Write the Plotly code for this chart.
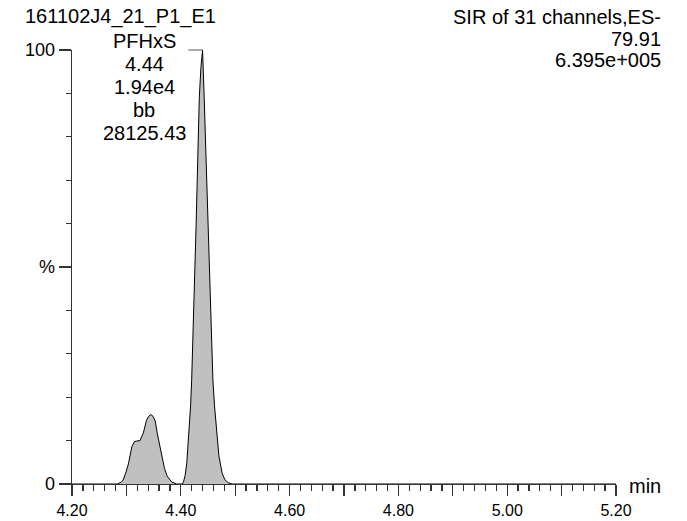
import plotly.graph_objects as go

# ---- data ----
time_min = [4.200, 4.283, 4.290, 4.294, 4.300, 4.304, 4.310, 4.315, 4.319, 4.325,
            4.331, 4.337, 4.341, 4.345, 4.349, 4.353, 4.357, 4.360, 4.365, 4.370,
            4.375, 4.383, 4.392, 4.403, 4.405, 4.408, 4.411, 4.415, 4.418, 4.420,
            4.424, 4.428, 4.431, 4.434, 4.437, 4.440, 4.443, 4.447, 4.451, 4.455,
            4.459, 4.462, 4.466, 4.470, 4.476, 4.481, 4.487, 4.494, 5.200]
intensity_pct = [0, 0, 0.4, 0.9, 3.0, 4.8, 8.6, 9.8, 9.9, 10.0,
                 11.7, 14.7, 15.6, 16.0, 15.6, 14.5, 11.5, 9.7, 6.5, 3.6,
                 1.8, 0.5, 0, 0, 0.5, 2, 4.8, 12, 18, 24,
                 40, 59, 74, 89, 96, 100, 89, 74, 59, 40,
                 24, 18, 12, 6.5, 2.5, 1, 0.3, 0, 0]

x_ticks = [4.2, 4.3, 4.4, 4.5, 4.6, 4.7, 4.8, 4.9, 5.0, 5.1, 5.2]
x_ticktext = ["4.20", "", "4.40", "", "4.60", "", "4.80", "", "5.00", "", "5.20"]
y_ticks = [0, 50, 100]
y_ticktext = ["0", "%", "100"]

sample_name = "161102J4_21_P1_E1"
peak_info = ["PFHxS", "4.44", "1.94e4", "bb", "28125.43"]
header_right = ["SIR of 31 channels,ES-", "79.91", "6.395e+005"]
peak_time = 4.44
peak_height = 100

X_RANGE = [4.2, 5.2]
Y_RANGE = [0, 100]

# ---- layout geometry (window pixels; body margin removed below) ----
W, H = 687, 521
PL, PR, PT, PB = 72, 616, 50, 484          # plot area
PW, PH = PR - PL, PB - PT
ML, MT = PL, PT
MR, MB = W - PR, H - PB


def px(x):
    return (x - PL) / PW


def py(y):
    return (PB - y) / PH


FONT = "Liberation Sans, Arial, Helvetica, sans-serif"
AXIS_COLOR = "#333333"

fig = go.Figure()
fig.add_trace(go.Scatter(
    x=time_min, y=intensity_pct, mode="lines",
    line=dict(color="black", width=1),
    fill="tozeroy", fillcolor="#c0c0c0",
    hoverinfo="skip", showlegend=False,
))

annotations = []
annotations.append(dict(text=sample_name, x=px(120), y=py(17), xref="paper", yref="paper",
                        xanchor="center", yanchor="middle", showarrow=False,
                        font=dict(size=20, color="black", family=FONT)))
for i, t in enumerate(peak_info):
    annotations.append(dict(text=t, x=px(144), y=py(41 + 22.9 * i), xref="paper", yref="paper",
                            xanchor="center", yanchor="middle", showarrow=False,
                            font=dict(size=20, color="black", family=FONT)))
for i, t in enumerate(header_right):
    annotations.append(dict(text=t, x=px(663), y=py(17 + 21.5 * i), xref="paper", yref="paper",
                            xanchor="right", yanchor="middle", showarrow=False,
                            font=dict(size=20, color="black", family=FONT)))
annotations.append(dict(text="min", x=px(627), y=py(486), xref="paper", yref="paper",
                        xanchor="left", yanchor="middle", showarrow=False,
                        font=dict(size=20, color="black", family=FONT)))


def xpaper(v):
    return (v - X_RANGE[0]) / (X_RANGE[1] - X_RANGE[0])


def ypaper(v):
    return (v - Y_RANGE[0]) / (Y_RANGE[1] - Y_RANGE[0])


shapes = [dict(type="line", xref="paper", yref="paper",
               x0=xpaper(peak_time - 0.026), x1=xpaper(peak_time),
               y0=ypaper(peak_height), y1=ypaper(peak_height),
               line=dict(color="#555555", width=1))]

fig.update_layout(
    width=W, height=H,
    margin=dict(l=ML, r=MR, t=MT, b=MB, pad=0, autoexpand=False),
    paper_bgcolor="white", plot_bgcolor="white",
    font=dict(family=FONT, color="black"),
    annotations=annotations, shapes=shapes,
    xaxis=dict(range=X_RANGE, tickmode="array", tickvals=x_ticks, ticktext=x_ticktext,
               ticks="outside", ticklen=11, tickwidth=1.3, tickcolor=AXIS_COLOR,
               minor=dict(tickmode="linear", dtick=0.02, tick0=4.2, ticks="outside",
                          ticklen=6, tickwidth=1.3, tickcolor=AXIS_COLOR, showgrid=False),
               showline=True, linecolor=AXIS_COLOR, linewidth=1.3, automargin=False,
               showgrid=False, zeroline=False,
               tickfont=dict(size=16, family=FONT, color="black")),
    yaxis=dict(range=Y_RANGE, tickmode="array", tickvals=y_ticks, ticktext=y_ticktext,
               ticks="outside", ticklen=12, tickwidth=1.3, tickcolor=AXIS_COLOR,
               minor=dict(tickmode="linear", dtick=10, tick0=0, ticks="outside",
                          ticklen=5, tickwidth=1.3, tickcolor=AXIS_COLOR, showgrid=False),
               showline=True, linecolor=AXIS_COLOR, linewidth=1.3, automargin=False,
               showgrid=False, zeroline=False,
               tickfont=dict(size=18, family=FONT, color="black")),
)

fig.write_html("out.html",
               config={"displayModeBar": False, "staticPlot": True},
               post_script="document.body.style.margin='0';document.body.style.padding='0';")
